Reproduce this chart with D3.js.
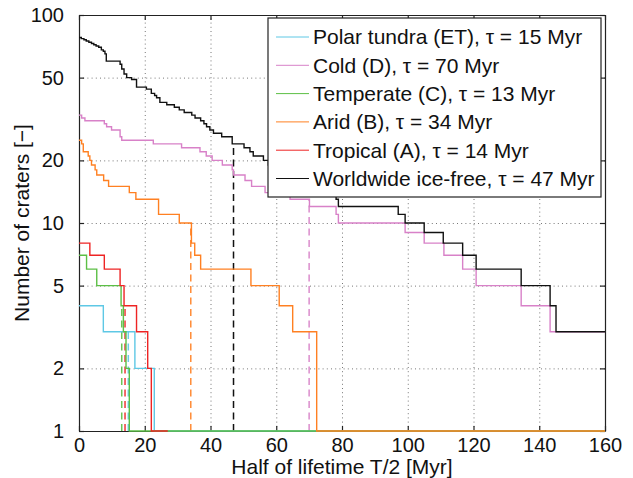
<!DOCTYPE html>
<html><head><meta charset="utf-8">
<script src="https://cdn.jsdelivr.net/npm/d3@7"></script>
<style>
body{margin:0;background:#fff;}
svg text{font-family:"Liberation Sans",Arial,Helvetica,sans-serif;}
</style></head>
<body><svg id="c" width="633" height="478"></svg>
<script>
// ---- data ----
const xTicks = [0,20,40,60,80,100,120,140,160];
const yTicks = [1,2,5,10,20,50,100];
const seriesNames = ["Polar tundra (ET), \u03c4 = 15 Myr","Cold (D), \u03c4 = 70 Myr","Temperate (C), \u03c4 = 13 Myr","Arid (B), \u03c4 = 34 Myr","Tropical (A), \u03c4 = 14 Myr","Worldwide ice-free, \u03c4 = 47 Myr"];
const seriesColors = ["#5ec8e5","#d881c8","#5cbf45","#ff8022","#ee2424","#111111"];
const taus = [15,70,13,34,14,47];
const seriesEnds = [160,160,160,160,27,160];

const polarX = [0,7.4,17.0,22.9];
const polarY = [4,3,2,1];
const coldX = [0,0.8,1.8,7.7,8.4,9.9,12.5,13,22.6,31.2,36.8,38.7,40.5,43.6,46.6,47,50.5,52.5,56.6,64.2,70.1,78.2,78.9,99.2,105,111,116.7,120.8,134.5,143.3];
const coldY = [33,32,31,30,29,28,26,25,24,23,22,21,20,19,18,17,16,15,14,13,12,11,10,9,8,7,6,5,4,3];
const tempX = [0,2.3,5.4,12.8,13.5,14.3,15.3];
const tempY = [7,6,5,4,3,2,1];
const aridX = [0,0.8,1.3,2.8,3.3,3.8,4.9,5.4,7.5,9,15.3,17.3,24.2,30.5,34.2,35.2,37,52.3,60.9,65,72.3];
const aridY = [25,24,22,21,20,19,18,17,16,15,14,13,11,10,8,7,6,5,4,3,1];
const tropX = [0,3.3,7.7,12.5,13.7,17.5,20.9,22.0];
const tropY = [8,7,6,5,4,3,2,1];
const worldX = [0,0.7,1.5,2.2,3,3.8,4.5,5.2,6,6.8,7.4,7.9,8.3,12.5,13,13.7,14.5,16,17.5,20.5,22,23,23.6,24.6,26.7,29,30.5,32,34.3,35.3,37,38,38.8,39.8,40.9,43.4,46.6,50.2,52,53,56.1,57.6,60,65,70,74,77,78.2,78.9,97.1,99.2,105,110.8,116.7,120.8,134.5,143.3,145.1];
const worldY = [78,77,76,75,74,73,72,71,70,68,67,65,60,58,55,52,50,49,45,44,42,41,40,38,37,36,35,34,33,32,31,30,29,28,27,26,24,23,22,21,20,19,18,17,16,15,14,13,12,11,10,9,8,7,6,5,4,3];

const allX = [polarX,coldX,tempX,aridX,tropX,worldX];
const allY = [polarY,coldY,tempY,aridY,tropY,worldY];

// ---- layout ----
const L=79, T=15, W=526, H=416;
const svg = d3.select("#c");
const x = d3.scaleLinear().domain([0,160]).range([L,L+W]);
const y = d3.scaleLog().domain([1,100]).range([T+H,T]);

// grid
const gridCol="#777";
svg.append("g").attr("transform",`translate(0,${T+H})`)
  .call(d3.axisBottom(x).tickValues(xTicks.slice(1,-1)).tickSize(-H).tickFormat(""))
  .call(g=>{g.select(".domain").remove();g.selectAll("line").attr("stroke",gridCol).attr("stroke-dasharray","1,3.2").attr("stroke-width",1);});
svg.append("g").attr("transform",`translate(${L},0)`)
  .call(d3.axisLeft(y).tickValues(yTicks.slice(1,-1)).tickSize(-W).tickFormat(""))
  .call(g=>{g.select(".domain").remove();g.selectAll("line").attr("stroke",gridCol).attr("stroke-dasharray","1,3.2").attr("stroke-width",1);});

// axes (inward ticks)
const fs=20;
const ax = svg.append("g").attr("transform",`translate(0,${T+H})`)
  .call(d3.axisBottom(x).tickValues(xTicks).tickSizeInner(-5).tickSizeOuter(0).tickPadding(7).tickFormat(d3.format("d")));
const ay = svg.append("g").attr("transform",`translate(${L},0)`)
  .call(d3.axisLeft(y).tickValues(yTicks).tickSizeInner(-5).tickSizeOuter(0).tickPadding(15).tickFormat(d3.format("d")));
const at = svg.append("g").attr("transform",`translate(0,${T})`)
  .call(d3.axisTop(x).tickValues(xTicks).tickSizeInner(-5).tickSizeOuter(0).tickFormat(""));
const ar = svg.append("g").attr("transform",`translate(${L+W},0)`)
  .call(d3.axisRight(y).tickValues(yTicks).tickSizeInner(-5).tickSizeOuter(0).tickFormat(""));
[ax,ay,at,ar].forEach(g=>{
  g.selectAll("path.domain").attr("stroke","#222").attr("stroke-width",1.2);
  g.selectAll("line").attr("stroke","#222").attr("stroke-width",1.2);
  g.selectAll("text").attr("font-size",fs).attr("fill","#111").attr("font-family","'Liberation Sans',Arial,sans-serif");
});
ax.selectAll("text").attr("dy","0.71em");

// dashed tau lines
function valAt(xs,ys,t){let v=ys[0];for(let i=0;i<xs.length;i++){if(xs[i]<=t)v=ys[i];}return v;}
const dashG = svg.append("g");
taus.forEach((t,i)=>{
  dashG.append("line").attr("x1",x(t)).attr("x2",x(t)).attr("y1",y(1)).attr("y2",y(valAt(allX[i],allY[i],t)))
    .attr("stroke",seriesColors[i]).attr("stroke-width",1.5).attr("stroke-dasharray","7,4.5")
    .attr("opacity", i===5?1:0.9);
});

// step lines
const line = d3.line().x(d=>x(d[0])).y(d=>y(d[1])).curve(d3.curveStepAfter);
allX.forEach((xs,i)=>{
  const pts = xs.map((v,j)=>[v,allY[i][j]]);
  pts.push([seriesEnds[i], allY[i][allY[i].length-1]]);
  svg.append("path").attr("d",line(pts)).attr("fill","none").attr("stroke",seriesColors[i]).attr("stroke-width",1.4);
});

// legend
const lg = svg.append("g");
const lx=268, ly=18, lw=333, lh=179;
lg.append("rect").attr("x",lx).attr("y",ly).attr("width",lw).attr("height",lh).attr("fill","#fff").attr("stroke","#222").attr("stroke-width",1.2);
seriesNames.forEach((n,i)=>{
  const cy = 37 + i*28.3;
  lg.append("line").attr("x1",276).attr("x2",309).attr("y1",cy).attr("y2",cy).attr("stroke",seriesColors[i]).attr("stroke-width",1);
  lg.append("text").attr("x",313).attr("y",cy).attr("dy","0.35em").attr("font-size",21).attr("fill","#111").text(n);
});

// axis labels
svg.append("text").attr("x",L+W/2).attr("y",474).attr("text-anchor","middle").attr("font-size",21).attr("fill","#111").text("Half of lifetime T/2 [Myr]");
svg.append("text").attr("transform",`translate(29,${T+H/2}) rotate(-90)`).attr("text-anchor","middle").attr("font-size",21).attr("fill","#111").text("Number of craters [\u2212]");
</script></body></html>
